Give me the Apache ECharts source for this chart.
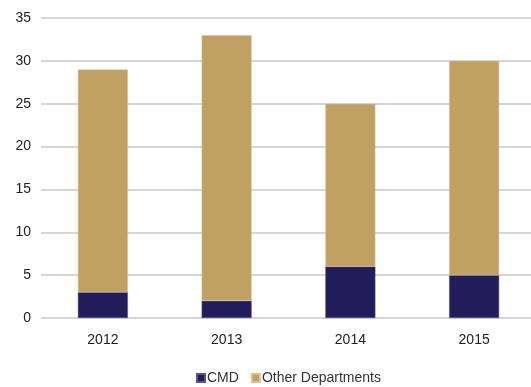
<!DOCTYPE html>
<html>
<head>
<meta charset="utf-8">
<script src="https://cdn.jsdelivr.net/npm/echarts@6/dist/echarts.min.js"></script>
<style>
  html, body { margin: 0; padding: 0; background: #fff; }
  #chart { width: 531px; height: 387px; }
</style>
</head>
<body>
<div id="chart"></div>
<script>
const years = ['2012', '2013', '2014', '2015'];
const cmd = [3, 2, 6, 5];
const otherDepartments = [26, 31, 19, 25];
const yTicks = [0, 5, 10, 15, 20, 25, 30, 35];

const font = '"Liberation Sans", Arial, sans-serif';

const chart = echarts.init(document.getElementById('chart'), null, { renderer: 'canvas' });
chart.setOption({
  animation: false,
  textStyle: { fontFamily: font },
  grid: { left: 41, top: 18, width: 495, height: 300, containLabel: false, outerBoundsMode: 'none' },
  legend: {
    top: 366,
    left: 191,
    itemWidth: 8,
    itemHeight: 8,
    itemGap: 12,
    icon: 'rect',
    textStyle: { fontSize: 14, color: '#333', fontFamily: font, padding: [0, 0, 0, -3] },
    data: ['CMD', 'Other Departments']
  },
  xAxis: {
    type: 'category',
    data: years,
    axisLine: { show: false },
    axisTick: { show: false },
    axisLabel: { fontSize: 14, color: '#222', margin: 15, fontFamily: font }
  },
  yAxis: {
    type: 'value',
    min: yTicks[0],
    max: yTicks[yTicks.length - 1],
    interval: 5,
    axisLine: { show: false },
    axisTick: { show: false },
    axisLabel: { fontSize: 14, color: '#222', margin: 10, fontFamily: font },
    splitLine: { lineStyle: { color: '#c8c8c8', width: 1.5 } }
  },
  series: [
    {
      name: 'CMD',
      type: 'bar',
      stack: 'total',
      barWidth: 50,
      data: cmd,
      itemStyle: { color: '#221d5a', borderColor: '#5a5680', borderWidth: 0.5 }
    },
    {
      name: 'Other Departments',
      type: 'bar',
      stack: 'total',
      barWidth: 50,
      data: otherDepartments,
      itemStyle: { color: '#c1a063', borderColor: '#d8c49a', borderWidth: 0.5 }
    }
  ]
});
</script>
</body>
</html>
